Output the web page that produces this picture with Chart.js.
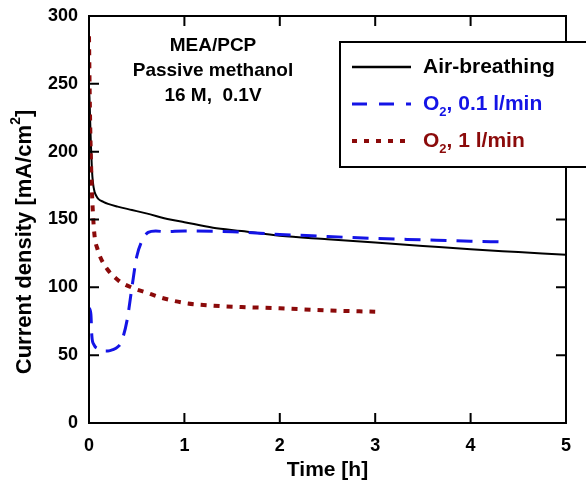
<!DOCTYPE html>
<html>
<head>
<meta charset="utf-8">
<script src="https://cdn.jsdelivr.net/npm/chart.js@4.4.1/dist/chart.umd.min.js"></script>
<style>
    html, body { margin: 0; padding: 0; background: #fff; }
    #wrap { width: 586px; height: 483px; }
</style>
</head>
<body>
<div id="wrap"><canvas id="chart" width="586" height="483"></canvas></div>
<script>
// ── Datos ───────────────────────────────────────────────────
const timeAir = [0, 0.005, 0.01, 0.02, 0.03, 0.04, 0.06, 0.08, 0.1, 0.15, 0.2, 0.3, 0.45, 0.6, 0.85, 1.0, 1.3, 1.6, 2.0, 2.5, 3.0, 3.5, 4.0, 4.5, 5.0];
const airBreathing = [245, 240, 228, 205, 188, 178, 170, 167, 165, 163, 161.5, 159.5, 157, 154.5, 150, 148, 144, 141.5, 138, 135.5, 133, 130.5, 128, 126, 124];

const timeO2Low = [0, 0.02, 0.03, 0.05, 0.1, 0.15, 0.2, 0.25, 0.3, 0.34, 0.4, 0.45, 0.5, 0.56, 0.62, 0.7, 0.8, 1.0, 1.5, 2.0, 2.5, 3.0, 3.5, 4.0, 4.3];
const o2Low = [85, 80, 64, 58, 54.5, 53, 53, 54, 56, 60, 76, 100, 122.5, 135, 140.5, 141.5, 141, 141.5, 141, 139, 137.5, 136, 135, 134, 133.5];

const timeO2High = [0, 0.01, 0.02, 0.03, 0.045, 0.06, 0.09, 0.12, 0.19, 0.31, 0.46, 0.61, 0.75, 1.0, 1.3, 1.6, 2.0, 2.5, 3.0];
const o2High = [285, 230, 195, 172, 150, 137, 128, 122, 113.5, 105, 99.5, 96, 92.5, 88.5, 86.5, 85.5, 84.5, 83, 82];

const xTicks = [0, 1, 2, 3, 4, 5];
const yTicks = [0, 50, 100, 150, 200, 250, 300];

const annotationLines = ['MEA/PCP', 'Passive methanol', '16 M,  0.1V'];

const COLORS = { air: '#000000', low: '#1414e6', high: '#8b0a0a' };
const FONT = '"Liberation Sans", Arial, Helvetica, sans-serif';

const toPoints = (xs, ys) => xs.map((x, i) => ({ x, y: ys[i] }));

// ── Marco, ticks internos, notas y leyenda ──────────────────
const framePlugin = {
    id: 'frameAndNotes',
    afterDraw: (chart) => {
        const ctx = chart.ctx;
        const a = chart.chartArea;
        const xs = chart.scales.x;
        const ys = chart.scales.y;
        const tick = 10;

        ctx.save();
        ctx.strokeStyle = '#000';
        ctx.lineWidth = 2;
        ctx.strokeRect(a.left, a.top, a.right - a.left, a.bottom - a.top);

        ctx.beginPath();
        xTicks.forEach(v => {
            const px = xs.getPixelForValue(v);
            ctx.moveTo(px, a.bottom); ctx.lineTo(px, a.bottom - tick);
            ctx.moveTo(px, a.top);    ctx.lineTo(px, a.top + tick);
        });
        yTicks.forEach(v => {
            const py = ys.getPixelForValue(v);
            ctx.moveTo(a.left, py);  ctx.lineTo(a.left + tick, py);
            ctx.moveTo(a.right, py); ctx.lineTo(a.right - tick, py);
        });
        ctx.stroke();

        // notas del experimento
        ctx.fillStyle = '#000';
        ctx.font = `bold 19px ${FONT}`;
        ctx.textAlign = 'center';
        ctx.textBaseline = 'middle';
        annotationLines.forEach((t, i) => ctx.fillText(t, 213, 46 + i * 25));

        // título eje Y con superíndice
        ctx.save();
        ctx.translate(25, 242);
        ctx.rotate(-Math.PI / 2);
        ctx.textAlign = 'left';
        ctx.textBaseline = 'middle';
        const main = 'Current density [mA/cm';
        ctx.font = `bold 22px ${FONT}`;
        const wMain = ctx.measureText(main).width;
        ctx.font = `bold 14px ${FONT}`;
        const wSup = ctx.measureText('2').width;
        ctx.font = `bold 22px ${FONT}`;
        const wEnd = ctx.measureText(']').width;
        const x0 = -(wMain + wSup + wEnd) / 2;
        ctx.fillText(main, x0, 0);
        ctx.font = `bold 14px ${FONT}`;
        ctx.fillText('2', x0 + wMain, -9);
        ctx.font = `bold 22px ${FONT}`;
        ctx.fillText(']', x0 + wMain + wSup, 0);
        ctx.restore();

        // leyenda
        const box = { left: 340, top: 42, right: 600, bottom: 167 };
        ctx.fillStyle = '#fff';
        ctx.fillRect(box.left, box.top, box.right - box.left, box.bottom - box.top);
        ctx.strokeRect(box.left, box.top, box.right - box.left, box.bottom - box.top);

        const entries = [
            { color: COLORS.air,  dash: [],       width: 2.5, y: 67,  parts: [['Air-breathing']] },
            { color: COLORS.low,  dash: [15, 12], width: 3,   y: 104, parts: [['O'], ['2', 'sub'], [', 0.1 l/min']] },
            { color: COLORS.high, dash: [5, 7],   width: 4,   y: 141, parts: [['O'], ['2', 'sub'], [', 1 l/min']] }
        ];
        entries.forEach(e => {
            ctx.save();
            ctx.strokeStyle = e.color;
            ctx.lineWidth = e.width;
            ctx.setLineDash(e.dash);
            ctx.beginPath();
            ctx.moveTo(352, e.y);
            ctx.lineTo(411, e.y);
            ctx.stroke();
            ctx.restore();

            ctx.fillStyle = e.color;
            ctx.textAlign = 'left';
            ctx.textBaseline = 'middle';
            let tx = 423;
            e.parts.forEach(([txt, mode]) => {
                if (mode === 'sub') {
                    ctx.font = `bold 13px ${FONT}`;
                    ctx.fillText(txt, tx, e.y + 8);
                } else {
                    ctx.font = `bold 21px ${FONT}`;
                    ctx.fillText(txt, tx, e.y);
                }
                tx += ctx.measureText(txt).width;
            });
        });
        ctx.restore();
    }
};

const ctx = document.getElementById('chart').getContext('2d');

new Chart(ctx, {
    type: 'line',
    data: {
        datasets: [
            {
                label: 'Air-breathing',
                data: toPoints(timeAir, airBreathing),
                borderColor: COLORS.air,
                borderWidth: 2,
                order: 3
            },
            {
                label: 'O2, 0.1 l/min',
                data: toPoints(timeO2Low, o2Low),
                borderColor: COLORS.low,
                borderWidth: 3,
                borderDash: [16, 10],
                order: 1
            },
            {
                label: 'O2, 1 l/min',
                data: toPoints(timeO2High, o2High),
                borderColor: COLORS.high,
                borderWidth: 4,
                borderDash: [6, 7],
                order: 2
            }
        ]
    },
    options: {
        responsive: false,
        animation: false,
        devicePixelRatio: 1,
        layout: { autoPadding: false, padding: { top: 16, right: 20, left: 0, bottom: 0 } },
        elements: {
            point: { radius: 0 },
            line: { cubicInterpolationMode: 'monotone', fill: false }
        },
        plugins: {
            legend: { display: false },
            tooltip: { enabled: false }
        },
        scales: {
            x: {
                type: 'linear',
                min: 0,
                max: 5,
                afterFit: (s) => { s.height = 60; },
                afterBuildTicks: (s) => { s.ticks = xTicks.map(v => ({ value: v })); },
                grid: { display: false, drawTicks: false },
                border: { display: false },
                ticks: { color: '#000', padding: 12, font: { family: FONT, size: 18, weight: 'bold' } },
                title: {
                    display: true,
                    text: 'Time [h]',
                    color: '#000',
                    padding: { top: 2, bottom: 0 },
                    font: { family: FONT, size: 21, weight: 'bold' }
                }
            },
            y: {
                type: 'linear',
                min: 0,
                max: 300,
                afterFit: (s) => { s.width = 89; },
                afterBuildTicks: (s) => { s.ticks = yTicks.map(v => ({ value: v })); },
                grid: { display: false, drawTicks: false },
                border: { display: false },
                // lineHeight bajo: evita que la mitad de la etiqueta + padding empuje el área hacia abajo
                ticks: { color: '#000', padding: 11, font: { family: FONT, size: 18, weight: 'bold', lineHeight: 0.4 } }
            }
        }
    },
    plugins: [framePlugin]
});
</script>
</body>
</html>
